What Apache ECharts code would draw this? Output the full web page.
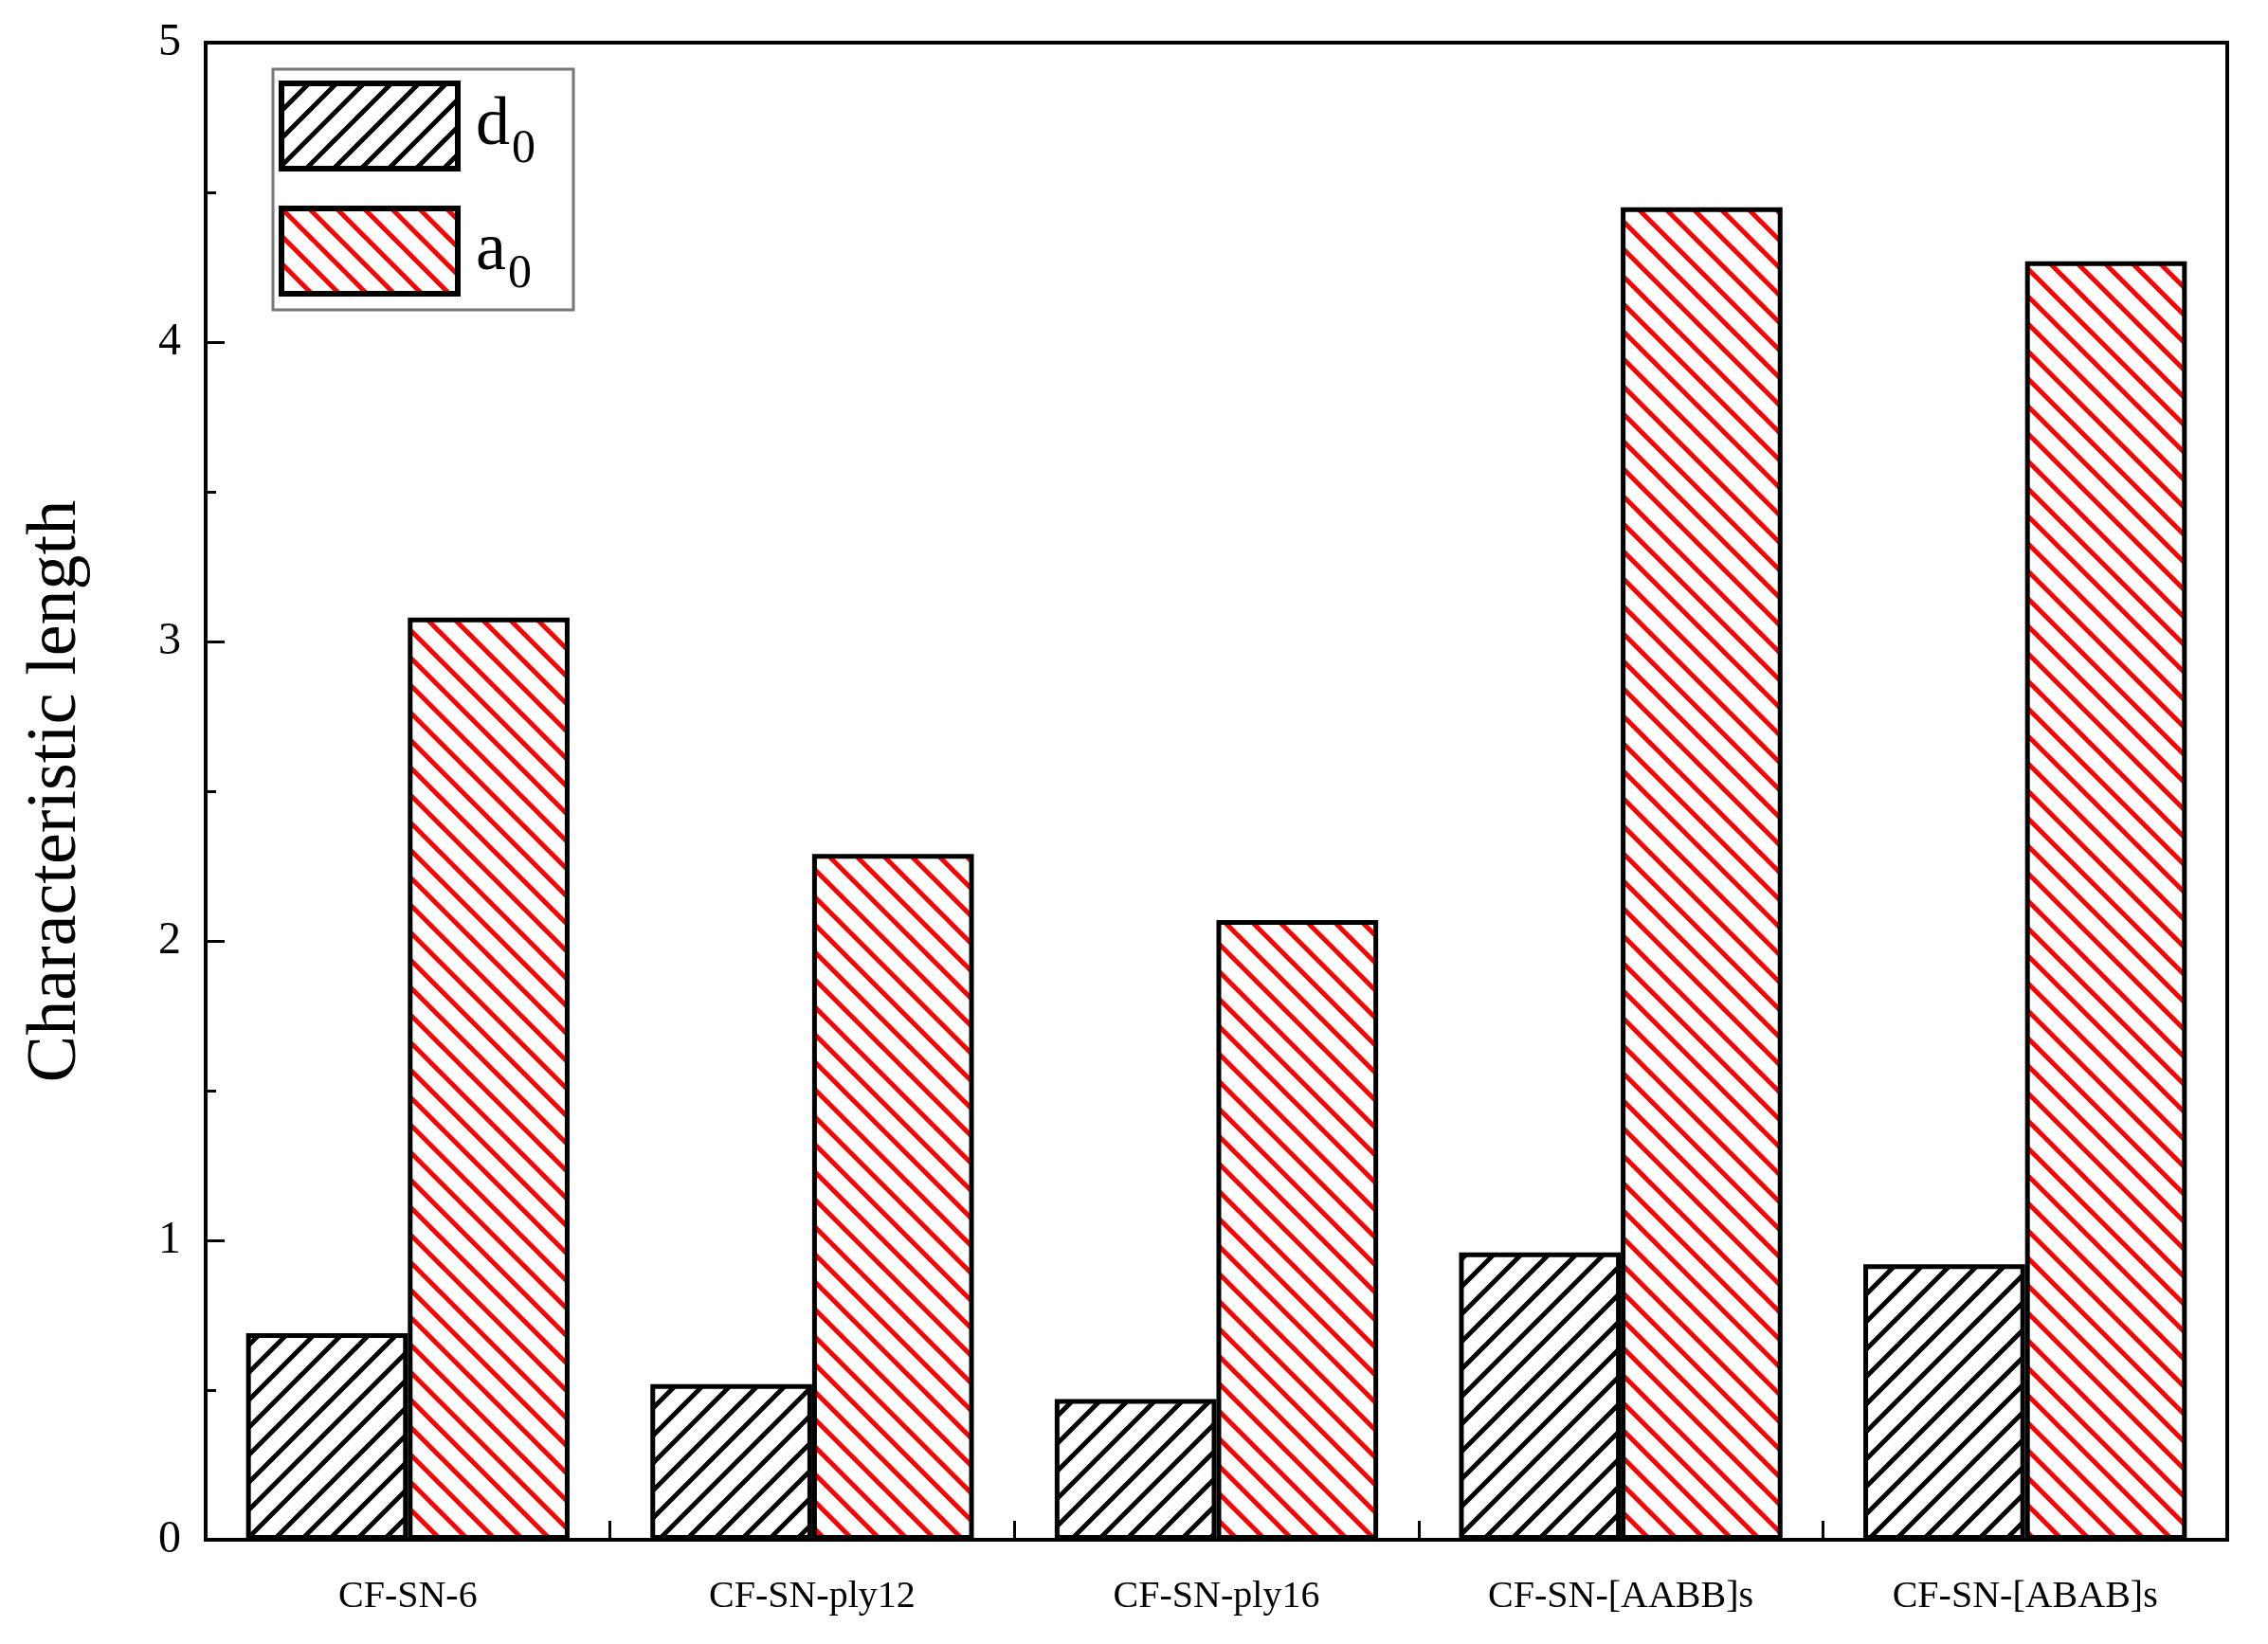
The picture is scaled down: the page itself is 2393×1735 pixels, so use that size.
<!DOCTYPE html>
<html><head><meta charset="utf-8">
<script src="https://cdn.jsdelivr.net/npm/echarts@6/dist/echarts.min.js"></script>
<style>html,body{margin:0;background:#fff}#c{width:2393px;height:1735px}</style>
</head><body><div id="c"></div>
<script>
const categories = ['CF-SN-6','CF-SN-ply12','CF-SN-ply16','CF-SN-[AABB]s','CF-SN-[ABAB]s'];
const d0 = [0.69,0.52,0.47,0.96,0.92];
const a0 = [3.08,2.29,2.07,4.45,4.27];
const yTicks = [0,1,2,3,4,5];

function hatch(color, dir){
  const s=29, c=document.createElement('canvas'); c.width=s; c.height=s;
  const g=c.getContext('2d'); g.fillStyle='#fff'; g.fillRect(0,0,s,s);
  g.strokeStyle=color; g.lineWidth=5; g.lineCap='square';
  for(const o of [-s,0,s]){
    g.beginPath();
    if(dir>0){ g.moveTo(o,s); g.lineTo(o+s,0);} else { g.moveTo(o,0); g.lineTo(o+s,s);}
    g.stroke();
  }
  return {image:c, repeat:'repeat'};
}
const font='Liberation Serif';
const chart=echarts.init(document.getElementById('c'));
chart.setOption({
  animation:false,
  grid:{left:217,right:43,top:45,bottom:110,show:true,borderColor:'#000',borderWidth:4,backgroundColor:'transparent'},
  legend:{orient:'vertical',left:288,top:73,padding:[12,40,12,6],itemGap:34,itemWidth:186,itemHeight:90,
    icon:'rect',borderColor:'#777',borderWidth:3,
    itemStyle:{borderColor:'#000',borderWidth:6},
    textStyle:{fontFamily:font,fontSize:72,color:'#000',padding:[0,0,0,14],rich:{s:{fontFamily:font,fontSize:50,padding:[50,0,0,2]}}},
    formatter:n=>n[0]+'{s|0}',
    data:['d0','a0']},
  xAxis:{type:'category',data:categories,
    axisLine:{lineStyle:{color:'#000',width:4}},
    axisTick:{show:true,interval:0,inside:true,length:20,lineStyle:{width:3,color:'#000'}},
    axisLabel:{fontFamily:font,fontSize:40,color:'#000',margin:40}},
  yAxis:{type:'value',min:0,max:5,interval:1,
    name:'Characteristic length',nameLocation:'middle',nameGap:120,
    nameTextStyle:{fontFamily:font,fontSize:74,color:'#000'},
    axisLine:{show:true,lineStyle:{color:'#000',width:4}},
    axisTick:{show:true,inside:true,length:20,lineStyle:{width:3}},
    minorTick:{show:true,splitNumber:2,length:11,lineStyle:{color:'#000',width:3}},
    splitLine:{show:false},
    axisLabel:{fontFamily:font,fontSize:48,color:'#000',margin:26,formatter:v=>yTicks.includes(v)?String(v):''}},
  series:[
    {name:'d0',type:'bar',data:d0,barGap:'0%',barCategoryGap:'20%',
      itemStyle:{color:hatch('#000',1),borderColor:'#000',borderWidth:5}},
    {name:'a0',type:'bar',data:a0,
      itemStyle:{color:hatch('#ff0000',-1),borderColor:'#000',borderWidth:5}}
  ]
});
</script></body></html>
